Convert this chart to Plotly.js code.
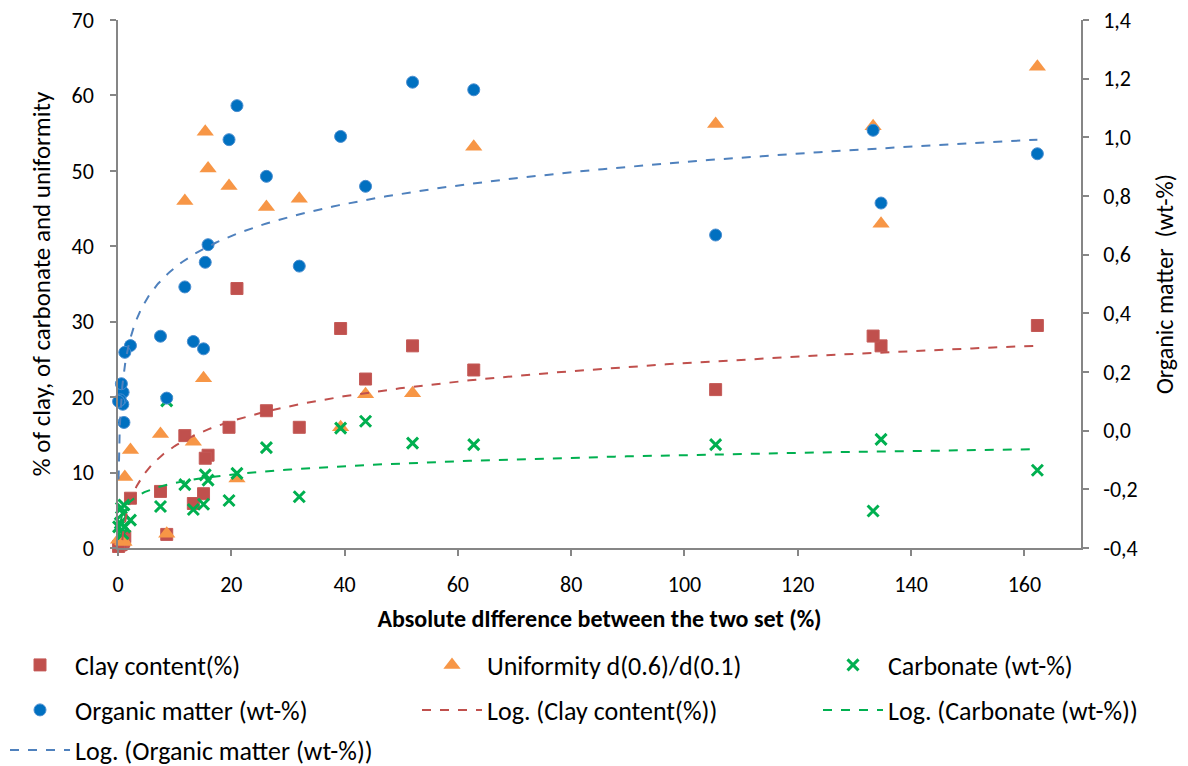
<!DOCTYPE html>
<html>
<head>
<meta charset="utf-8">
<script src="https://cdn.plot.ly/plotly-3.0.1.min.js"></script>
<style>
  html, body { margin: 0; padding: 0; background: #fff; }
  #chart { width: 1188px; height: 766px; }
</style>
</head>
<body>
<div id="chart"></div>
<script>
// Absolute difference between the two sets (%) for each sample
const xDiff = [162.3, 134.7, 133.3, 105.5, 62.8, 52.0, 43.7, 39.3, 32.0, 26.2, 21.0, 19.6, 15.9, 15.4, 15.1, 13.3, 11.8, 8.6, 7.5, 2.2, 1.2, 1.05, 0.9, 0.85, 0.6, 0.4, 0.1];
// Left axis series
const clay = [29.5, 26.8, 28.1, 21.0, 23.6, 26.8, 22.4, 29.1, 16.0, 18.2, 34.4, 16.0, 12.3, 11.9, 7.2, 5.9, 14.9, 1.8, 7.5, 6.6, 1.5, 1.0, 0.7, 0.9, 0.5, 0.4, 0.2];
const uniformity = [63.8, 43.0, 55.9, 56.2, 53.2, 20.5, 20.4, 16.0, 46.3, 45.2, 9.2, 48.0, 50.3, 55.2, 22.5, 14.1, 46.0, 1.9, 15.1, 13.0, 9.4, 0.8, 1.0, 0.9, 1.3, 1.2, 1.1];
const carbonate = [10.3, 14.4, 4.9, 13.7, 13.7, 13.9, 16.8, 15.9, 6.8, 13.3, 9.9, 6.3, 9.0, 9.7, 5.8, 5.1, 8.4, 19.5, 5.5, 3.7, 2.8, 5.7, 4.6, 1.9, 5.3, 3.3, 2.8];
// Right axis series
const organic = [0.944, 0.776, 1.024, 0.667, 1.162, 1.188, 0.833, 1.003, 0.561, 0.867, 1.108, 0.992, 0.634, 0.574, 0.279, 0.304, 0.490, 0.111, 0.322, 0.290, 0.267, 0.028, 0.131, 0.090, 0.160, 0.105, 0.100];

// Axis tick labels
const xTickVals = [0, 20, 40, 60, 80, 100, 120, 140, 160];
const leftTickVals = [0, 10, 20, 30, 40, 50, 60, 70];
const rightTickVals = [-0.4, -0.2, 0.0, 0.2, 0.4, 0.6, 0.8, 1.0, 1.2, 1.4];
const rightTickText = ["-0,4", "-0,2", "0,0", "0,2", "0,4", "0,6", "0,8", "1,0", "1,2", "1,4"];

// Logarithmic trend (least squares of y on ln x), as Excel's "Log." trendline
function logFit(xs, ys) {
  const u = xs.map(Math.log);
  const n = u.length;
  const mu = u.reduce((a, b) => a + b, 0) / n;
  const my = ys.reduce((a, b) => a + b, 0) / n;
  let sxy = 0, sxx = 0;
  for (let i = 0; i < n; i++) { sxy += (u[i] - mu) * (ys[i] - my); sxx += (u[i] - mu) ** 2; }
  const a = sxy / sxx, b = my - a * mu;
  const xmin = Math.min(...xs), xmax = Math.max(...xs);
  const lx = [], ly = [];
  const steps = 300;
  for (let k = 0; k <= steps; k++) {
    const xv = Math.exp(Math.log(xmin) + (Math.log(xmax) - Math.log(xmin)) * k / steps);
    lx.push(xv); ly.push(a * Math.log(xv) + b);
  }
  return { x: lx, y: ly };
}

const FONT = "Calibri, Carlito, Lato, 'Open Sans', sans-serif";
const AXIS_GREY = '#868686';
const W = 1188, H = 766, ML = 118, MR = 107, MT = 20, MB = 218;
const PW = W - ML - MR, PH = H - MT - MB;
const px2x = p => (p - ML) / PW;
const py2y = p => (H - MB - p) / PH;

const clayFit = logFit(xDiff, clay);
const carbFit = logFit(xDiff, carbonate);
const omFit = logFit(xDiff, organic);

const traces = [
  { name: 'Clay content(%)', legend: 'legend', x: xDiff, y: clay, type: 'scatter', mode: 'markers', cliponaxis: false,
    marker: { symbol: 'square', size: 12, color: '#C0504D', line: { color: '#C45A57', width: 1 } } },
  { name: 'Uniformity d(0.6)/d(0.1)', legend: 'legend2', x: xDiff, y: uniformity, type: 'scatter', mode: 'markers', cliponaxis: false,
    marker: { symbol: 'triangle-up', size: 15, color: '#F79646', line: { color: '#F79646', width: 0 } } },
  { name: 'Carbonate (wt-%)', legend: 'legend3', x: xDiff, y: carbonate, type: 'scatter', mode: 'markers', cliponaxis: false,
    marker: { symbol: 'x-thin', size: 11, color: '#00B050', line: { color: '#00B050', width: 3 } } },
  { name: 'Organic matter (wt-%)', legend: 'legend4', x: xDiff, y: organic, yaxis: 'y2', type: 'scatter', mode: 'markers', cliponaxis: false,
    marker: { symbol: 'circle', size: 12, color: '#0070C0', line: { color: '#4A8ED0', width: 1 } } },
  { name: 'Log. (Clay content(%))', legend: 'legend5', x: clayFit.x, y: clayFit.y, type: 'scatter', mode: 'lines',
    line: { color: '#C0504D', width: 2, dash: 'dash' } },
  { name: 'Log. (Carbonate (wt-%))', legend: 'legend6', x: carbFit.x, y: carbFit.y, type: 'scatter', mode: 'lines',
    line: { color: '#00B050', width: 2, dash: 'dash' } },
  { name: 'Log. (Organic matter (wt-%))', legend: 'legend7', x: omFit.x, y: omFit.y, yaxis: 'y2', type: 'scatter', mode: 'lines',
    line: { color: '#4F81BD', width: 2, dash: 'dash' } }
];

const axisCommon = {
  showline: true, linecolor: AXIS_GREY, linewidth: 1.5,
  ticks: 'outside', ticklen: 6, tickcolor: AXIS_GREY, tickwidth: 1.5,
  showgrid: false, zeroline: false, automargin: false,
  tickfont: { family: FONT, size: 22, color: '#000' }
};

const LEG_FONT = { family: FONT, size: 26, color: '#000' };
function legendAt(textX, rowY) {
  const iw = 60;
  const left = textX - (iw + 10);
  return {
    x: px2x(left), xanchor: 'left', y: py2y(rowY), yanchor: 'middle',
    orientation: 'v', itemwidth: iw, font: LEG_FONT,
    bgcolor: 'rgba(0,0,0,0)', borderwidth: 0
  };
}
const COL = [75, 487, 888];
const ROW = [665, 710, 750];

const layout = {
  width: W, height: H,
  margin: { l: ML, r: MR, t: MT, b: MB, autoexpand: false },
  paper_bgcolor: '#fff', plot_bgcolor: '#fff',
  font: { family: FONT, color: '#000' },
  showlegend: true,
  xaxis: Object.assign({}, axisCommon, {
    range: [0, 170], tickvals: xTickVals, ticklabelstandoff: 10,
    title: { text: '<b>Absolute dIfference between the two set (%)</b>', font: { family: FONT, size: 24, color: '#000' }, standoff: 13 }
  }),
  yaxis: Object.assign({}, axisCommon, {
    range: [0, 70], tickvals: leftTickVals, ticklabelstandoff: 12,
    title: { text: '% of clay, of carbonate and uniformity', font: { family: FONT, size: 25, color: '#000' }, standoff: 14 }
  }),
  yaxis2: Object.assign({}, axisCommon, {
    overlaying: 'y', side: 'right', anchor: 'x',
    range: [-0.4, 1.4], tickvals: rightTickVals, ticktext: rightTickText, ticklabelstandoff: 10,
    title: { text: 'Organic matter\u00A0 (wt-%)', font: { family: FONT, size: 24, color: '#000' }, standoff: 20 }
  }),
  legend: legendAt(COL[0], ROW[0]),
  legend2: legendAt(COL[1], ROW[0]),
  legend3: legendAt(COL[2], ROW[0]),
  legend4: legendAt(COL[0], ROW[1]),
  legend5: legendAt(COL[1], ROW[1]),
  legend6: legendAt(COL[2], ROW[1]),
  legend7: legendAt(COL[0], ROW[2])
};

Plotly.newPlot('chart', traces, layout, { displayModeBar: false, responsive: false });
</script>
</body>
</html>
